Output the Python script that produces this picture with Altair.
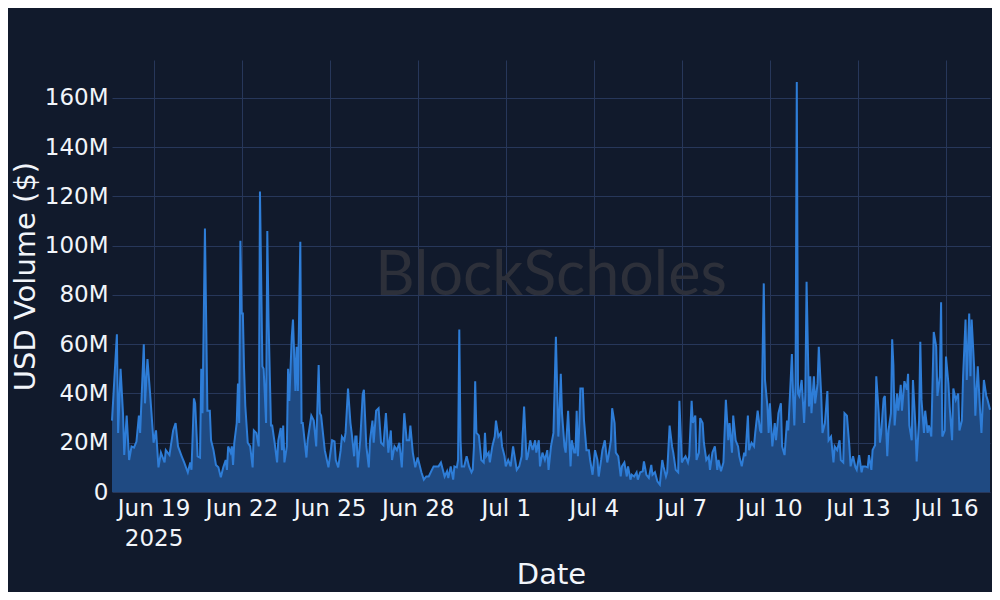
import altair as alt
import pandas as pd

# ---- data ----
START = "2025-06-17T14:00:00"
END = "2025-07-17T12:00:00"

HOURS = [
    0, 4, 5, 7, 9, 10, 12, 14, 16, 18, 20, 22, 23, 26, 27, 29, 31, 34, 36, 38, 40, 43, 44, 47, 50, 52, 54, 57, 59, 62,
    64, 65, 67, 68, 70, 72, 73, 74, 76, 78, 80, 81, 83, 85, 87, 89,
    91, 93, 94, 95, 97, 98, 99, 100, 102, 103, 104, 105, 106, 107, 108, 109, 111, 113, 115, 116, 118, 120, 121, 123,
    124, 126, 127, 128, 130, 131, 133, 135, 136, 138, 139, 140, 141, 143, 144, 145, 147, 148, 150, 151, 152, 154, 155,
    156, 158, 159, 160, 163, 165, 167, 169, 170, 171, 174, 177,
    180, 182, 183, 185, 187, 188, 190, 191, 193, 195, 196, 198, 199, 200, 201, 203, 205, 206, 208, 210, 211, 213, 214,
    216, 218, 220, 222, 224, 226, 228, 229, 231, 233, 235, 237, 239, 241, 243, 244, 246, 248, 250, 253, 255, 257, 259,
    261, 263,
    267, 269, 272, 274, 275, 277, 279, 280, 282, 283, 284, 285, 286, 288, 290, 292, 294, 295, 296, 297, 298, 300, 302,
    304, 305, 306, 308, 309, 311, 313, 314, 316, 318, 319, 321, 322, 324, 326, 328, 331, 333, 335, 337, 339, 340, 342,
    344, 346, 347, 349, 350, 352, 354, 356,
    357, 359, 361, 362, 363, 365, 366, 367, 368, 370, 371, 373, 375, 376, 378, 379, 380, 381, 382, 383, 385, 386, 388,
    390, 391, 393, 395, 397, 398, 400, 401, 403, 405, 406, 408, 409, 411, 412, 414, 416, 417, 419, 421, 422, 424, 425,
    427, 429, 430, 432, 434, 435, 437, 439, 441, 442, 444, 446, 448,
    450, 451, 453, 454, 456, 458, 459, 461, 463, 464, 466, 467, 469, 471, 472, 474, 475, 477, 478, 480, 481, 483, 484,
    486, 488, 489, 491, 493, 495, 496, 498, 500, 502, 504, 505, 507, 508, 510, 512, 513, 515, 517, 518, 520, 521, 523,
    525, 526, 528, 530, 531, 533, 534, 536, 537, 538,
    540, 542, 543, 545, 547, 548, 550, 552, 553, 555, 556, 557, 558, 559, 560, 561, 562, 564, 566, 567, 568, 570, 571,
    572, 574, 575, 577, 578, 580, 581, 583, 585, 586, 588, 590, 591, 593, 595, 596, 598, 599, 601, 603, 604, 606, 608,
    609, 611, 613, 614, 616, 618, 619, 621, 622, 624, 625, 627, 628,
    629, 631, 632, 634, 635, 637, 638, 639, 640, 642, 643, 645, 646, 648, 650, 651, 652, 654, 655, 657, 658, 660, 661,
    662, 664, 665, 667, 668, 669, 670, 672, 674, 675, 677, 678, 679, 681, 682, 684, 685, 687, 688, 690, 692, 693, 695,
    696, 698, 699, 701, 702, 703, 705, 706, 708, 710, 711, 713, 715, 716, 718,
]

VOLUME_M = [
    29, 64, 24, 50, 32, 15, 31, 13, 18.5, 18, 20.5, 31, 24, 60, 36, 54, 41, 20, 25, 10, 16, 12, 17, 15, 25, 28, 18.5, 14.5, 12, 8,
    12, 9, 38, 36, 14.5, 14, 50, 32, 107, 33, 33, 21, 17, 11, 10, 6,
    10, 13, 9, 18.5, 16, 18.5, 11, 20, 28, 44, 28, 102, 72.5, 72.5, 50, 35, 20, 18.5, 10, 25, 24, 18.5, 122, 51,
    50, 28, 106, 70, 27, 27, 20, 12, 21, 26, 17, 27, 12, 18.5, 50, 37, 63, 70, 41, 59, 41, 101.6, 28,
    28, 18.5, 14, 21, 31, 29, 18.5, 51.6, 32, 31, 17, 10,
    21, 20.5, 13, 10, 17, 22.5, 21, 24, 42, 28, 24, 14.5, 22.5, 22.5, 10, 21, 39.5, 41.5, 18.5, 10, 21, 29, 20,
    33, 34, 20, 19, 32, 16, 25, 13, 18.5, 17, 20, 10, 32, 21, 21, 27, 16, 10, 14, 8, 5, 6.3, 6.3,
    8.4, 10.4,
    10.4, 12, 6.3, 8.4, 5.7, 10.4, 5, 10.4, 10, 13, 66, 21, 10.4, 10.4, 14.5, 10.4, 8, 9, 18.5, 45, 24, 23, 13,
    12, 24, 14.5, 16, 12, 18.5, 22.5, 29, 22.5, 24, 18.5, 14.5, 10.4, 13, 10.4, 18.5, 9, 10.4, 14.5, 34.7, 13, 14.5, 21,
    17, 21, 16, 21, 10.4, 16, 13, 17,
    9, 18.5, 24, 43, 63, 22.5, 32, 48, 32, 18.5, 16, 33, 10.4, 21, 16, 16, 33, 14.5, 25, 42, 42, 29, 17,
    17, 13, 7, 17, 13, 6.3, 13, 17, 21, 12, 14.5, 21, 34, 28, 16, 14.5, 6.3, 10.4, 12, 6.3, 10.4, 5, 7,
    6.3, 8, 5, 8, 8.4, 12.4, 7, 5.7, 11, 7, 8, 4.3, 3,
    13, 10.4, 6.3, 8, 27, 18.5, 16, 9, 8, 37, 12, 13, 14.5, 12, 14.5, 37, 28, 31, 13, 16, 30, 28, 20,
    13, 14.5, 9, 16, 18.5, 9, 13, 8.4, 12, 37.4, 21, 28, 16, 31, 21, 18.5, 14.5, 10.4, 16, 14.5, 31, 17, 20,
    18.5, 24, 33, 25, 24, 84.7, 45.5, 34.7, 24, 36,
    18.5, 28, 21, 32, 36, 18.5, 15, 29, 25, 45.5, 56, 39, 27, 44, 166.5, 40, 39, 45.5, 28, 40, 85.4, 34.7, 47,
    32, 47, 36, 44, 59, 39, 24, 28, 41, 21, 22.5, 12, 18.5, 17, 21, 13, 12, 32, 31, 18.5, 10.4, 14.5, 10,
    9, 15, 8, 10.4, 10.4, 10, 15, 9, 17, 19, 47, 32, 20,
    24, 38, 39, 14.5, 25, 32, 62, 51.6, 27, 40, 33, 43.5, 33, 45, 41.5, 48, 27, 21, 45.5, 27, 12.4, 29, 61,
    37.4, 24, 33, 24, 27, 25, 22.5, 65, 59, 39, 47, 77, 22.5, 25, 55, 44, 34.7, 21, 42, 37.4, 40, 25, 29,
    47, 70, 45.5, 72.5, 47, 70, 51, 31, 51, 32, 24, 45.5, 39, 37.4, 33.4,
]

X_TICKS = ["2025-06-19", "2025-06-22", "2025-06-25", "2025-06-28", "2025-07-01",
           "2025-07-04", "2025-07-07", "2025-07-10", "2025-07-13", "2025-07-16"]
Y_TICKS = [0, 20, 40, 60, 80, 100, 120, 140, 160]
Y_MAX = 175.4
WATERMARK = "BlockScholes"

# ---- build table ----
start = pd.Timestamp(START)
dates = [(start + pd.Timedelta(hours=h)).strftime("%Y-%m-%dT%H:%M:%S") for h in HOURS]
df = pd.DataFrame({"date": dates, "volume": VOLUME_M})


def dt(s):
    t = pd.Timestamp(s)
    return alt.DateTime(year=t.year, month=t.month, date=t.day, hours=t.hour, minutes=t.minute)


BG = "#111a2c"
LINE = "#2e7dd7"
FILL = "#1f4a82"
GRID = "#27375a"
TXT = "#f2f5fa"
FONT = "DejaVu Sans"

x_enc = alt.X(
    "date:T",
    scale=alt.Scale(domain=[dt(START), dt(END)], nice=False),
    axis=alt.Axis(
        title="Date",
        values=[dt(s) for s in X_TICKS],
        labelExpr="timeFormat(datum.value, '%m-%d') == '06-19' ? ['Jun 19', '2025'] : timeFormat(datum.value, '%b %-d')",
        labelAlign="center",
        labelBaseline="top",
        labelPadding=5,
        labelLineHeight=30,
        titlePadding=10,
    ),
)
y_enc = alt.Y(
    "volume:Q",
    scale=alt.Scale(domain=[0, Y_MAX], nice=False),
    axis=alt.Axis(
        title="USD Volume ($)",
        values=Y_TICKS,
        labelExpr="datum.value == 0 ? '0' : datum.value + 'M'",
        labelPadding=4,
        titlePadding=4,
    ),
)

area = alt.Chart(df).mark_area(color=FILL, opacity=1, line=False).encode(x=x_enc, y=y_enc)
line = alt.Chart(df).mark_line(color=LINE, strokeWidth=2).encode(x="date:T", y="volume:Q")

wm = alt.Chart(pd.DataFrame({"t": [WATERMARK]})).mark_text(
    font="Lato", fontSize=61, color="#2d303a", align="center", baseline="middle"
).encode(text="t:N", x=alt.value(439), y=alt.value(217))

chart = (
    alt.layer(wm, area, line)
    .properties(
        width=878,
        height=432,
        background=BG,
        autosize=alt.AutoSizeParams(type="none"),
        padding={"left": 104, "top": 52, "right": 2, "bottom": 100},
    )
    .configure_view(stroke=None)
    .configure_axis(
        grid=True,
        gridColor=GRID,
        gridWidth=1,
        domain=False,
        ticks=False,
        labelColor=TXT,
        titleColor=TXT,
        labelFont=FONT,
        titleFont=FONT,
        labelFontSize=23,
        titleFontSize=29,
        titleFontWeight="normal",
    )
)

chart.save("out.html", embed_options={"renderer": "svg", "actions": False})
